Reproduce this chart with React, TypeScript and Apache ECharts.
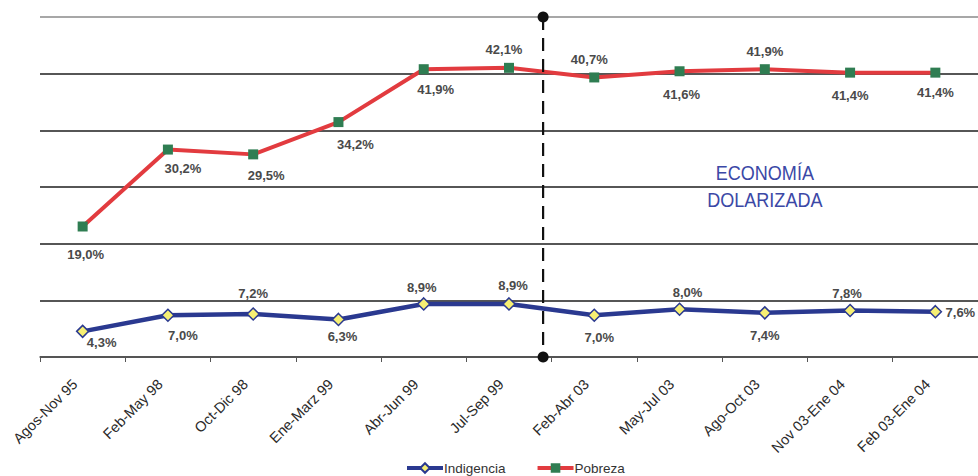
import React, { useEffect, useRef } from "react";
import * as echarts from "echarts";

// Periods of the household survey
const periods = [
  "Agos-Nov 95",
  "Feb-May 98",
  "Oct-Dic 98",
  "Ene-Marz 99",
  "Abr-Jun 99",
  "Jul-Sep 99",
  "Feb-Abr 03",
  "May-Jul 03",
  "Ago-Oct 03",
  "Nov 03-Ene 04",
  "Feb 03-Ene 04",
];

// Poverty rate (%)
const pobreza = [19.0, 30.2, 29.5, 34.2, 41.9, 42.1, 40.7, 41.6, 41.9, 41.4, 41.4];

// Extreme poverty rate (%)
const indigencia = [4.3, 7.0, 7.2, 6.3, 8.9, 8.9, 7.0, 8.0, 7.4, 7.8, 7.6];

const fmt = (v: number) => v.toFixed(1).replace(".", ",") + "%";

export default function App() {
  const ref = useRef<HTMLDivElement>(null);

  useEffect(() => {
    document.body.style.margin = "0";
    if (!ref.current) return;
    const chart = echarts.init(ref.current, null, { renderer: "svg" });

    // label offsets (dx, dy) from each marker centre
    const pobOffsets = [
      [3, 28], [15, 19], [13, 21], [17, 22], [12, 20], [-5, -18],
      [-5, -18], [2, 23], [0, -18], [0, 23], [0, 20],
    ];
    const indOffsets = [
      [19, 11], [15, 20], [0, -21], [4, 17], [-2, -16], [4, -18],
      [5, 22], [8, -17], [0, 23], [-3, -17], [25, 1],
    ];

    const labelStyle = {
      show: true,
      position: "inside" as const,
      fontFamily: "Liberation Sans, Arial, sans-serif",
      fontSize: 13,
      fontWeight: "bold" as const,
      color: "#4a4a4a",
    };

    const lineGray = "#1e1e1e";

    chart.setOption({
      animation: false,
      backgroundColor: "#ffffff",
      grid: { left: 40, top: 17, width: 940, height: 340 },
      xAxis: {
        type: "category",
        data: periods,
        boundaryGap: true,
        axisLine: { lineStyle: { color: "#555", width: 1.5 } },
        axisTick: { show: true, length: 5, lineStyle: { color: "#555" } },
        axisLabel: {
          rotate: 45,
          margin: 17,
          interval: 0,
          padding: [0, 11, 0, 0],
          fontFamily: "Liberation Sans, Arial, sans-serif",
          fontSize: 14.5,
          color: "#2a2a2a",
        },
      },
      yAxis: [
        {
          type: "value",
          min: 0,
          max: 49.5,
          interval: 8.25,
          axisLabel: { show: false },
          axisLine: { show: false },
          axisTick: { show: false },
          splitLine: {
            show: true,
            lineStyle: {
              color: [lineGray, lineGray, lineGray, lineGray, lineGray, lineGray, "#8a8a8a"],
              width: 1.6,
            },
          },
        },
        {
          type: "value",
          min: 0,
          max: 57,
          show: false,
          splitLine: { show: false },
        },
      ],
      legend: {
        left: 400,
        top: 456,
        itemWidth: 36,
        itemHeight: 12,
        itemGap: 30,
        lineStyle: { width: 4 },
        textStyle: {
          fontFamily: "Liberation Sans, Arial, sans-serif",
          fontSize: 13.5,
          color: "#333",
          padding: [0, 0, 0, -4],
        },
        data: ["Indigencia", "Pobreza"],
      },
      series: [
        {
          name: "Indigencia",
          type: "line",
          yAxisIndex: 1,
          symbol: "diamond",
          symbolSize: 12,
          lineStyle: { color: "#2a3990", width: 4.5 },
          itemStyle: { color: "#f6ef73", borderColor: "#2a3990", borderWidth: 1.5 },
          data: indigencia.map((v, i) => ({
            value: v,
            label: { ...labelStyle, offset: indOffsets[i], formatter: () => fmt(v) },
          })),
          z: 3,
        },
        {
          name: "Pobreza",
          type: "line",
          yAxisIndex: 0,
          symbol: "rect",
          symbolSize: 10,
          lineStyle: { color: "#e23b3f", width: 4 },
          itemStyle: { color: "#2f7d52", borderWidth: 0 },
          data: pobreza.map((v, i) => ({
            value: v,
            label: { ...labelStyle, offset: pobOffsets[i], formatter: () => fmt(v) },
          })),
          z: 3,
        },
      ],
    });

    // Divider between the pre-dollarization and dollarized periods
    const x5 = chart.convertToPixel({ xAxisIndex: 0 }, 5) as number;
    const x6 = chart.convertToPixel({ xAxisIndex: 0 }, 6) as number;
    const xd = x5 + (x6 - x5) * 0.4;
    const yTop = chart.convertToPixel({ yAxisIndex: 0 }, 49.5) as number;
    const yBot = chart.convertToPixel({ yAxisIndex: 0 }, 0) as number;
    const xText = chart.convertToPixel({ xAxisIndex: 0 }, 8) as number;

    chart.setOption({
      graphic: [
        {
          type: "line",
          z: 10,
          shape: { x1: xd, y1: yTop, x2: xd, y2: yBot },
          style: { stroke: "#111", lineWidth: 2.2, lineDash: [13, 8] },
        },
        { type: "circle", z: 11, shape: { cx: xd, cy: yTop, r: 5.5 }, style: { fill: "#111" } },
        { type: "circle", z: 11, shape: { cx: xd, cy: yBot, r: 5.5 }, style: { fill: "#111" } },
        {
          type: "text",
          z: 11,
          x: xText,
          y: 186,
          scaleX: 0.86,
          style: {
            text: "ECONOMÍA\nDOLARIZADA",
            align: "center",
            verticalAlign: "middle",
            fill: "#3b48a6",
            fontFamily: "Liberation Sans, Arial, sans-serif",
            fontSize: 21,
            lineHeight: 28,
          },
        },
      ],
    });

    return () => chart.dispose();
  }, []);

  return <div ref={ref} style={{ width: 978, height: 476 }} />;
}
